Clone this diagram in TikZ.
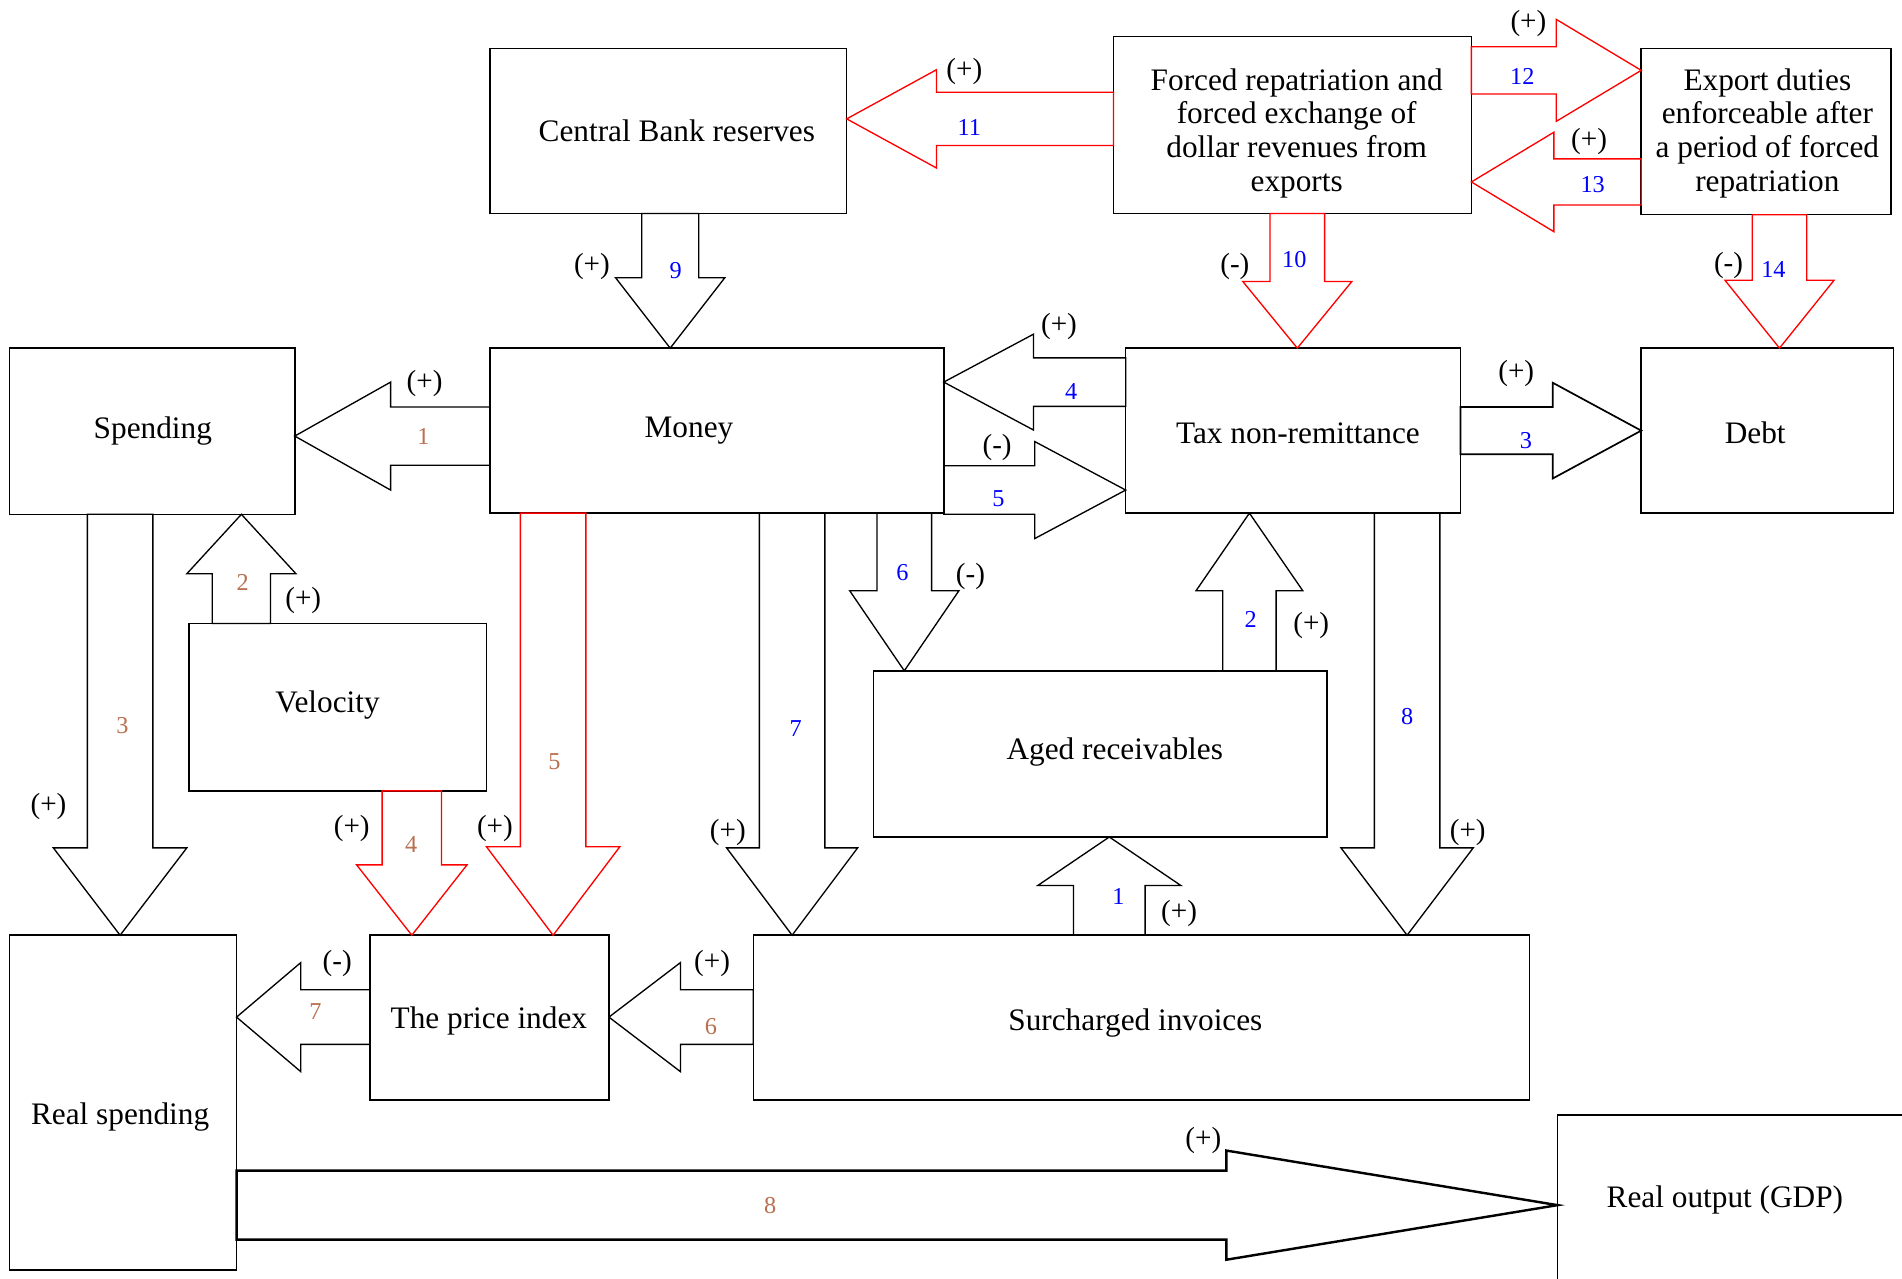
\documentclass[tikz,border=0pt]{standalone}
\usepackage{fontspec}
\setmainfont{Liberation Serif}
\usetikzlibrary{calc}
\definecolor{lbrown}{RGB}{184,112,80}
\definecolor{lblue}{RGB}{0,0,255}
\definecolor{ared}{RGB}{255,0,0}
\tikzset{
  box/.style={draw, line width=1.3pt, inner sep=0pt, outer sep=0pt, rectangle},
  btxt/.style={font=\fontsize{25.8}{28}\selectfont, inner sep=0pt, align=center, yshift=-3pt},
  arr/.style={draw=black, line width=1.1pt, line join=miter},
  redarr/.style={arr, draw=ared},
  numb/.style={font=\fontsize{20}{22}\selectfont, inner sep=0pt, yshift=-1pt},
  nbrown/.style={numb, text=lbrown},
  nblue/.style={numb, text=lblue},
  sign/.style={font=\fontsize{24}{26}\selectfont, inner sep=0pt, yshift=-3pt},
}
% #1 options, #2 start (shaft base centre), #3 tip, #4 shaft half width, #5 head half width, #6 head length
\newcommand\barrow[6][]{%
  \coordinate (bS) at (#2);
  \coordinate (bT) at (#3);
  \coordinate (bB) at ($(bT)!#6!(bS)$);
  \draw[arr,#1] ($(bS)!#4!90:(bT)$) -- ($(bB)!#4!-90:(bS)$) -- ($(bB)!#5!-90:(bS)$)
     -- (bT) -- ($(bB)!#5!90:(bS)$) -- ($(bB)!#4!90:(bS)$) -- ($(bS)!#4!-90:(bT)$) -- cycle;}
\begin{document}
\begin{tikzpicture}[x=1pt,y=-1pt]
\useasboundingbox (0,0) rectangle (1568,1054);
\clip (0,0) rectangle (1568,1054);
\fill[white] (0,0) rectangle (1568,1054);

% boxes
\node[box, minimum width=294pt, minimum height=136pt] (cbr) at (551,108) {};
\node[box, minimum width=295pt, minimum height=146pt] (forced) at (1065.5,103) {};
\node[box, minimum width=206pt, minimum height=137pt] (export) at (1456,108.5) {};
\node[box, minimum width=235pt, minimum height=137pt] (spend) at (125.5,355.5) {};
\node[box, minimum width=374pt, minimum height=136pt] (money) at (591,355) {};
\node[box, minimum width=276pt, minimum height=136pt] (tax) at (1066,355) {};
\node[box, minimum width=208pt, minimum height=136pt] (debt) at (1457,355) {};
\node[box, minimum width=245pt, minimum height=138pt] (vel) at (278.5,583) {};
\node[box, minimum width=374pt, minimum height=137pt] (aged) at (907,621.5) {};
\node[box, minimum width=187pt, minimum height=276pt] (rspend) at (101.5,909) {};
\node[box, minimum width=197pt, minimum height=136pt] (pidx) at (403.5,839) {};
\node[box, minimum width=640pt, minimum height=136pt] (surch) at (941,839) {};
\node[box, minimum width=320pt, minimum height=200pt] (rout) at (1444,1019) {};

% box texts
\node[btxt] (cbr-t) at (558,105) {Central Bank reserves};
\node[btxt] (forced-t) at (1069,107) {Forced repatriation and\\forced exchange of\\dollar revenues from\\exports};
\node[btxt] (export-t) at (1457,107) {Export duties\\enforceable after\\a period of forced\\repatriation};
\node[btxt] (spend-t) at (126,352) {Spending};
\node[btxt] (money-t) at (568,352) {Money};
\node[btxt] (tax-t) at (1070,354) {Tax non-remittance};
\node[btxt] (debt-t) at (1447,354) {Debt};
\node[btxt] (vel-t) at (270,578) {Velocity};
\node[btxt] (aged-t) at (919,617) {Aged receivables};
\node[btxt] (rspend-t) at (99,918) {Real spending};
\node[btxt] (pidx-t) at (403,839) {The price index};
\node[btxt] (surch-t) at (936,840) {Surcharged invoices};
\node[btxt] (rout-t) at (1422,986) {Real output (GDP)};

% block arrows (black)
\barrow{money.west |- 0,359.5}{spend.east |- 0,359.5}{24pt}{44.5pt}{79pt}
\barrow{cbr.south -| 552.5,0}{money.north -| 552.5,0}{23.5pt}{45pt}{58pt}
\barrow{tax.west |- 0,315}{money.east |- 0,315}{20pt}{39.5pt}{74pt}
\barrow{money.east |- 0,404}{tax.west |- 0,404}{20pt}{40pt}{75pt}
\barrow[line width=1.4pt]{tax.east |- 0,355}{debt.west |- 0,355}{19.5pt}{39.5pt}{73pt}
\barrow{vel.north -| 199,0}{spend.south -| 199,0}{24pt}{45pt}{49pt}
\barrow{spend.south -| 99,0}{rspend.north -| 99,0}{27pt}{55pt}{72pt}
\barrow{money.south -| 653,0}{surch.north -| 653,0}{27pt}{54pt}{72pt}
\barrow{money.south -| 745.5,0}{aged.north -| 745.5,0}{22.5pt}{45pt}{66pt}
\barrow{aged.north -| 1030,0}{tax.south -| 1030,0}{22pt}{44pt}{64pt}
\barrow{tax.south -| 1160,0}{surch.north -| 1160,0}{27pt}{54.5pt}{72pt}
\barrow{surch.north -| 914.5,0}{aged.south -| 914.5,0}{29.5pt}{59pt}{40pt}
\barrow{surch.west |- 0,838.5}{pidx.east |- 0,838.5}{22.5pt}{45pt}{59pt}
\barrow{pidx.west |- 0,838.5}{rspend.east |- 0,838.5}{22.5pt}{45pt}{53pt}
\barrow[line width=2pt]{rspend.east |- 0,993.5}{rout.west |- 0,993.5}{28.5pt}{45pt}{273pt}

% block arrows (red)
\barrow[redarr]{forced.west |- 0,98}{cbr.east |- 0,98}{22pt}{40.5pt}{74pt}
\barrow[redarr]{forced.east |- 0,58}{export.west |- 0,58}{19.5pt}{42pt}{70pt}
\barrow[redarr]{export.west |- 0,150}{forced.east |- 0,150}{19pt}{41pt}{68pt}
\barrow[redarr]{forced.south -| 1069.5,0}{tax.north -| 1069.5,0}{22.5pt}{45pt}{55pt}
\barrow[redarr]{export.south -| 1467,0}{debt.north -| 1467,0}{22.5pt}{45pt}{56pt}
\barrow[redarr]{vel.south -| 339.5,0}{pidx.north -| 339.5,0}{24.5pt}{45.5pt}{58pt}
\barrow[redarr]{money.south -| 456,0}{pidx.north -| 456,0}{27pt}{55pt}{73pt}

% brown numbers
\node[nbrown] (b1) at (349,359) {1};
\node[nbrown] (b2) at (200,479) {2};
\node[nbrown] (b3) at (101,597) {3};
\node[nbrown] (b4) at (339,695) {4};
\node[nbrown] (b5) at (457,627) {5};
\node[nbrown] (b6) at (586,845) {6};
\node[nbrown] (b7) at (260,833) {7};
\node[nbrown] (b8) at (635,993) {8};

% blue numbers
\node[nblue] (u9) at (557,222) {9};
\node[nblue] (u11) at (799,104) {11};
\node[nblue] (u12) at (1255,62) {12};
\node[nblue] (u13) at (1313,151) {13};
\node[nblue] (u10) at (1067,213) {10};
\node[nblue] (u14) at (1462,221) {14};
\node[nblue] (u4) at (883,322) {4};
\node[nblue] (u5) at (823,410) {5};
\node[nblue] (u3) at (1258,362) {3};
\node[nblue] (u7) at (656,600) {7};
\node[nblue] (u6) at (744,471) {6};
\node[nblue] (u2) at (1031,510) {2};
\node[nblue] (u8) at (1160,590) {8};
\node[nblue] (u1) at (922,738) {1};

% signs
\node[sign] (s1) at (350,313) {(+)};
\node[sign] (s2) at (488,217) {(+)};
\node[sign] (s3) at (795,56) {(+)};
\node[sign] (s4) at (1260,16) {(+)};
\node[sign] (s5) at (1310,114) {(+)};
\node[sign] (s6) at (1018,217) {(-)};
\node[sign] (s7) at (1425,216) {(-)};
\node[sign] (s8) at (873,266) {(+)};
\node[sign] (s9) at (822,366) {(-)};
\node[sign] (s10) at (1250,305) {(+)};
\node[sign] (s11) at (250,492) {(+)};
\node[sign] (s12) at (40,662) {(+)};
\node[sign] (s13) at (290,680) {(+)};
\node[sign] (s14) at (408,680) {(+)};
\node[sign] (s15) at (600,683) {(+)};
\node[sign] (s16) at (800,472) {(-)};
\node[sign] (s17) at (1081,513) {(+)};
\node[sign] (s18) at (1210,683) {(+)};
\node[sign] (s19) at (972,750) {(+)};
\node[sign] (s20) at (587,791) {(+)};
\node[sign] (s21) at (278,791) {(-)};
\node[sign] (s22) at (992,937) {(+)};
\end{tikzpicture}
\end{document}
